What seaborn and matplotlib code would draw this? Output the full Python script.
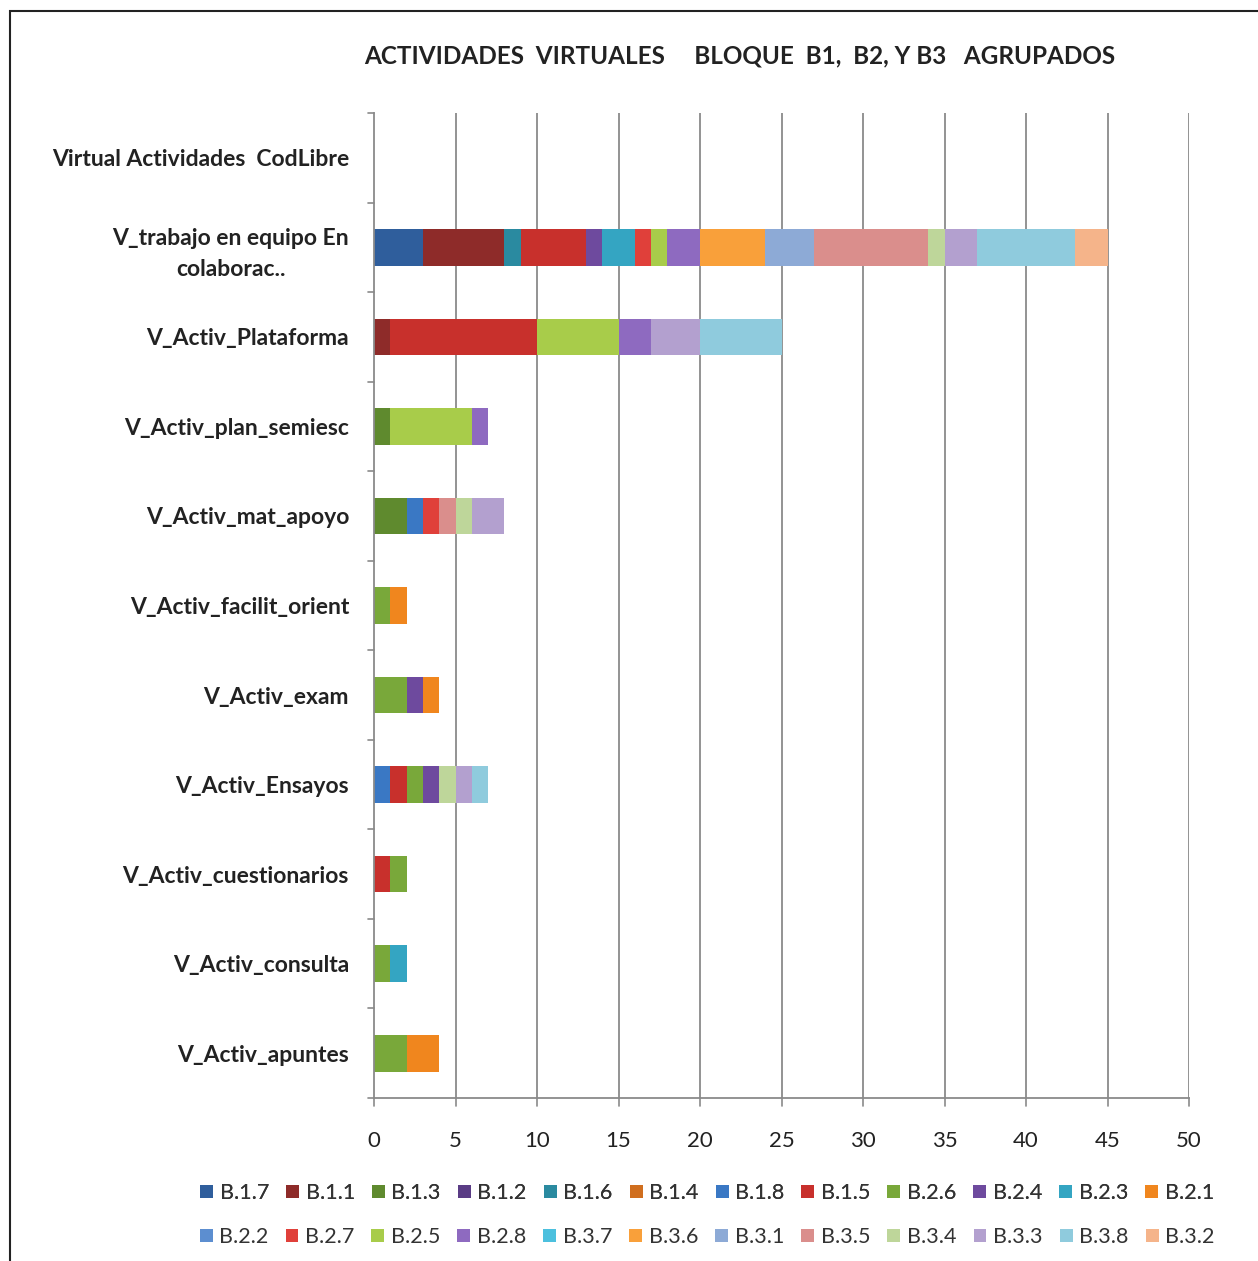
import numpy as np
import pandas as pd
import matplotlib
matplotlib.use("Agg")
import matplotlib.pyplot as plt
from matplotlib.patches import Patch, Rectangle
import seaborn as sns

categories = [
    "Virtual Actividades  CodLibre",
    "V_trabajo en equipo En\ncolaborac..",
    "V_Activ_Plataforma",
    "V_Activ_plan_semiesc",
    "V_Activ_mat_apoyo",
    "V_Activ_facilit_orient",
    "V_Activ_exam",
    "V_Activ_Ensayos",
    "V_Activ_cuestionarios",
    "V_Activ_consulta",
    "V_Activ_apuntes",
]

series_names = ["B.1.7", "B.1.1", "B.1.3", "B.1.2", "B.1.6", "B.1.4",
                "B.1.8", "B.1.5", "B.2.6", "B.2.4", "B.2.3", "B.2.1",
                "B.2.2", "B.2.7", "B.2.5", "B.2.8", "B.3.7", "B.3.6",
                "B.3.1", "B.3.5", "B.3.4", "B.3.3", "B.3.8", "B.3.2"]

# values per series, in category order (top to bottom)
B_1_7 = [0, 3, 0, 0, 0, 0, 0, 0, 0, 0, 0]
B_1_1 = [0, 5, 1, 0, 0, 0, 0, 0, 0, 0, 0]
B_1_3 = [0, 0, 0, 1, 2, 0, 0, 0, 0, 0, 0]
B_1_2 = [0, 0, 0, 0, 0, 0, 0, 0, 0, 0, 0]
B_1_6 = [0, 1, 0, 0, 0, 0, 0, 0, 0, 0, 0]
B_1_4 = [0, 0, 0, 0, 0, 0, 0, 0, 0, 0, 0]
B_1_8 = [0, 0, 0, 0, 1, 0, 0, 1, 0, 0, 0]
B_1_5 = [0, 4, 9, 0, 0, 0, 0, 1, 1, 0, 0]
B_2_6 = [0, 0, 0, 0, 0, 1, 2, 1, 1, 1, 2]
B_2_4 = [0, 1, 0, 0, 0, 0, 1, 1, 0, 0, 0]
B_2_3 = [0, 2, 0, 0, 0, 0, 0, 0, 0, 1, 0]
B_2_1 = [0, 0, 0, 0, 0, 1, 1, 0, 0, 0, 2]
B_2_2 = [0, 0, 0, 0, 0, 0, 0, 0, 0, 0, 0]
B_2_7 = [0, 1, 0, 0, 1, 0, 0, 0, 0, 0, 0]
B_2_5 = [0, 1, 5, 5, 0, 0, 0, 0, 0, 0, 0]
B_2_8 = [0, 2, 2, 1, 0, 0, 0, 0, 0, 0, 0]
B_3_7 = [0, 0, 0, 0, 0, 0, 0, 0, 0, 0, 0]
B_3_6 = [0, 4, 0, 0, 0, 0, 0, 0, 0, 0, 0]
B_3_1 = [0, 3, 0, 0, 0, 0, 0, 0, 0, 0, 0]
B_3_5 = [0, 7, 0, 0, 1, 0, 0, 0, 0, 0, 0]
B_3_4 = [0, 1, 0, 0, 1, 0, 0, 1, 0, 0, 0]
B_3_3 = [0, 2, 3, 0, 2, 0, 0, 1, 0, 0, 0]
B_3_8 = [0, 6, 5, 0, 0, 0, 0, 1, 0, 0, 0]
B_3_2 = [0, 2, 0, 0, 0, 0, 0, 0, 0, 0, 0]

series_values = [B_1_7, B_1_1, B_1_3, B_1_2, B_1_6, B_1_4,
                 B_1_8, B_1_5, B_2_6, B_2_4, B_2_3, B_2_1,
                 B_2_2, B_2_7, B_2_5, B_2_8, B_3_7, B_3_6,
                 B_3_1, B_3_5, B_3_4, B_3_3, B_3_8, B_3_2]

colors = ["#2F5E9C", "#8E2B29", "#5F8A2E", "#5A3C85", "#2A8AA0", "#D06E1E",
          "#3A78C4", "#C8302C", "#79A83A", "#6E4A9E", "#34A5C2", "#F0861E",
          "#5C8ED0", "#E0403A", "#A8CC4A", "#8E6AC0", "#4CC0DE", "#F9A03A",
          "#8DAAD6", "#DA8E8C", "#BED69A", "#B3A0CF", "#8FCBDD", "#F5B48A"]

xticks = [0, 5, 10, 15, 20, 25, 30, 35, 40, 45, 50]

sns.set_theme(style="white")
plt.rcParams['font.family'] = ['Lato', 'DejaVu Sans']

W, H = 1258, 1261
fig = plt.figure(figsize=(W / 100, H / 100), dpi=100)
ax = fig.add_axes([374 / W, 1 - 1098 / H, (1189 - 374) / W, (1098 - 113) / H])

# cumulative sums, drawn from the last series to the first so that each
# segment shows its own colour
vals = np.array(series_values, dtype=float)
cum = np.cumsum(vals, axis=0)
for i in range(len(series_names) - 1, -1, -1):
    df = pd.DataFrame({"cat": categories, "val": cum[i]})
    sns.barplot(data=df, y="cat", x="val", order=categories, color=colors[i],
                orient="h", width=0.41, saturation=1, ax=ax,
                edgecolor="none", linewidth=0, errorbar=None)

ax.set_xlim(0, 50)
ax.set_ylim(len(categories) - 0.5, -0.5)
ax.set_xticks(xticks)
ax.set_xticklabels([str(t) for t in xticks], fontsize=16, color="#222222")
ax.set_xlabel("")
ax.set_ylabel("")
ax.set_yticks(np.arange(len(categories)))
ax.set_yticklabels(categories, fontsize=16.5, fontweight="bold", color="#222222",
                   multialignment="center", linespacing=1.55)
ax.tick_params(axis="y", length=0, pad=18)
ax.tick_params(axis="x", length=0, pad=24)

# gridlines
ax.grid(False)
for t in xticks[1:]:
    ax.axvline(t, color="#8A8A8A", lw=1.3, zorder=0)
for s in ["top", "right"]:
    ax.spines[s].set_visible(False)
ax.spines["left"].set_color("#8A8A8A")
ax.spines["left"].set_linewidth(1.3)
ax.spines["bottom"].set_color("#8A8A8A")
ax.spines["bottom"].set_linewidth(1.3)
ax.set_axisbelow(True)

# category boundary tick marks on the left spine and x tick marks
for b in np.arange(-0.5, len(categories), 1.0):
    ax.plot([-0.35, 0], [b, b], color="#8A8A8A", lw=1.2, clip_on=False,
            transform=ax.transData)
for t in xticks:
    ax.plot([t, t], [len(categories) - 0.5, len(categories) - 0.41],
            color="#8A8A8A", lw=1.2, clip_on=False)

fig.text(740 / W, 1 - 56 / H,
         "ACTIVIDADES  VIRTUALES     BLOQUE  B1,  B2, Y B3   AGRUPADOS",
         ha="center", va="center", fontsize=17.5, fontweight="bold", color="#222222")

handles = [Patch(facecolor=c, edgecolor="none") for c in colors]
leg_kw = dict(loc="center", ncol=12, frameon=False, fontsize=15.5,
              handlelength=0.6, handleheight=0.6, handletextpad=0.3,
              columnspacing=0.8)
leg1 = fig.legend(handles[:12], series_names[:12],
                  bbox_to_anchor=(707 / W, 1 - 1193 / H), **leg_kw)
fig.add_artist(leg1)
leg2 = fig.legend(handles[12:], series_names[12:],
                  bbox_to_anchor=(707 / W, 1 - 1237 / H), **leg_kw)
for lg in (leg1, leg2):
    for t in lg.get_texts():
        t.set_color("#333333")

# outer frame (left and top visible)
fig.patches.append(Rectangle((10 / W, -0.1), 1.2, 1 - 11 / H + 0.1,
                             transform=fig.transFigure, fill=False,
                             edgecolor="#222222", lw=1.5))

fig.savefig("out.png", dpi=100)
